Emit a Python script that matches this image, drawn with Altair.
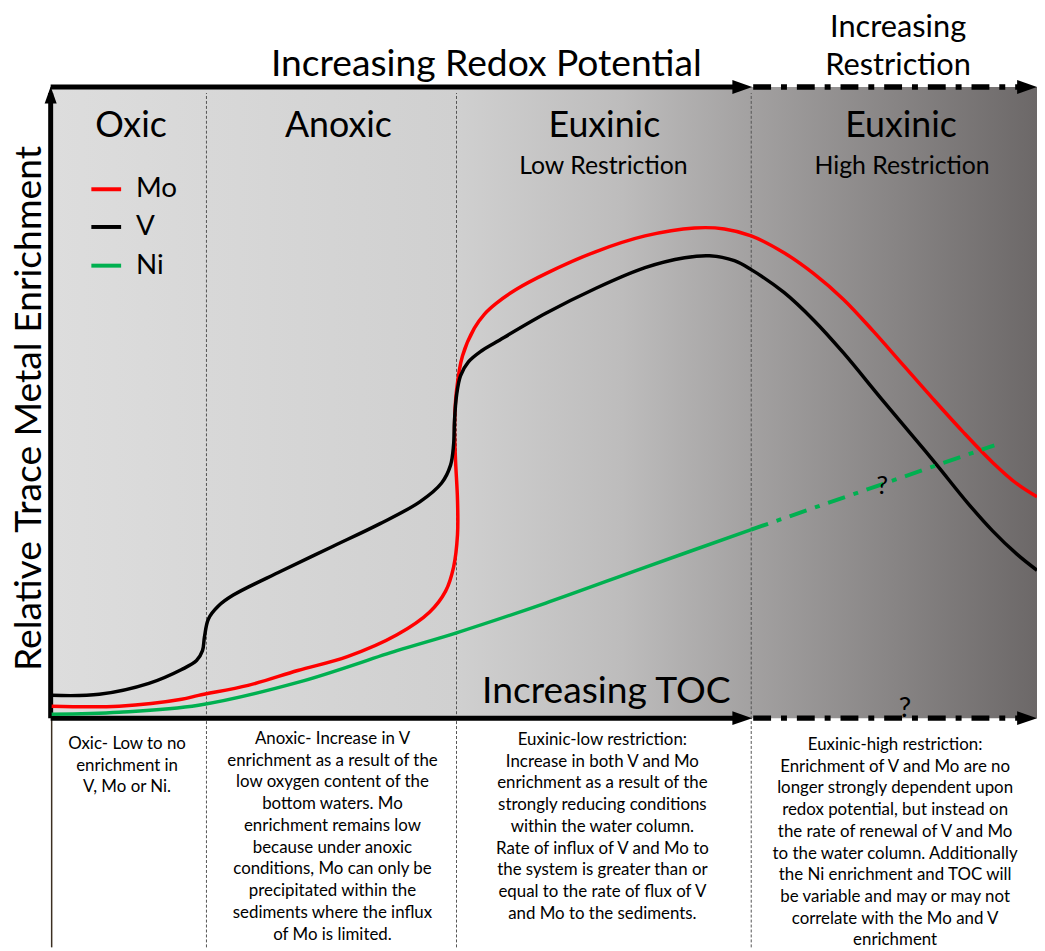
import altair as alt
import pandas as pd

FONT = "Lato"

# ---------------- data: relative TOC position (0 = enrichment axis) vs relative enrichment (0 = TOC axis)
v_toc = [1, 49, 99, 132, 147, 153, 155, 159, 169, 184, 232, 282, 332, 372, 394, 403, 406, 407, 409, 413,
         421, 434, 449, 499, 549, 599, 639, 664, 689, 706, 739, 769, 799, 837, 869, 894, 924, 949, 974, 994]
v_enr = [23, 24, 35, 49, 58, 68, 82, 100, 113, 124, 148, 172, 196, 218, 237, 255, 275, 300, 325, 345,
         359, 370, 379, 408, 433, 454, 464, 466, 461, 452, 429, 401, 368, 322, 284, 254, 217, 189, 165, 149]

mo_toc = [1, 69, 132, 149, 199, 249, 299, 349, 382, 398, 406, 410, 410, 408, 407, 409, 415, 427, 437, 449,
          469, 499, 549, 599, 649, 679, 706, 739, 769, 799, 829, 859, 889, 919, 949, 974, 994]
mo_enr = [12, 12, 19, 23, 33, 48, 62, 84, 107, 128, 152, 185, 220, 260, 295, 330, 365, 393, 407, 418,
          432, 448, 470, 486, 494, 493, 486, 469, 448, 422, 390, 356, 322, 289, 258, 236, 223]

ni_toc = [1, 69, 149, 249, 349, 409, 499, 599, 706]
ni_enr = [4, 6, 13, 36, 68, 86, 116, 152, 190]
ni_proj_toc = [706, 951]
ni_proj_enr = [190, 275]

metals = ["Mo", "V", "Ni"]
metal_colors = ["#ff0000", "#000000", "#00b050"]
legend_enr = [533, 495, 456]

zone_bounds = [157, 409, 706]
zone_names = ["Oxic", "Anoxic", "Euxinic", "Euxinic"]
zone_name_x = [81, 290, 558, 857]
zone_sub = ["Low Restriction", "High Restriction"]
zone_sub_x = [557, 858]

desc_x = [77, 284, 556, 851]
desc_y = [-31, -26, -27, -32]
desc_lines = [
    ["Oxic- Low to no", "enrichment in", "V, Mo or Ni."],
    ["Anoxic- Increase in V", "enrichment as a result of the", "low oxygen content of the",
     "bottom waters. Mo", "enrichment remains low", "because under anoxic",
     "conditions, Mo can only be", "precipitated within the", "sediments where the influx",
     "of Mo is limited."],
    ["Euxinic-low restriction:", "Increase in both V and Mo", "enrichment as a result of the",
     "strongly reducing conditions", "within the water column.", "Rate of influx of V and Mo to",
     "the system is greater than or", "equal to the rate of flux of V", "and Mo to the sediments."],
    ["Euxinic-high restriction:", "Enrichment of V and Mo are no", "longer strongly dependent upon",
     "redox potential, but instead on", "the rate of renewal of V and Mo",
     "to the water column. Additionally", "the Ni enrichment and TOC will",
     "be variable and may or may not", "correlate with the Mo and V", "enrichment"],
]

# ---------------- scales
W, H = 1037, 943
xs = alt.Scale(domain=[-43, 994], nice=False, zero=False)
ys = alt.Scale(domain=[-231, 712], nice=False, zero=False)


def X(f="x"):
    return alt.X(f"{f}:Q", scale=xs, axis=None)


def Y(f="y"):
    return alt.Y(f"{f}:Q", scale=ys, axis=None)


def label(x, y, text, size, **kw):
    df = pd.DataFrame({"x": [x], "y": [y], "t": [text]})
    return alt.Chart(df).mark_text(font=FONT, fontSize=size, **kw).encode(
        x=X(), y=Y(), text="t:N")


layers = []

# background gradient
bg = pd.DataFrame({"x": [0], "x2": [994], "y": [0], "y2": [636]})
grad = alt.LinearGradient(
    gradient="linear",
    stops=[alt.GradientStop(color="#dddddd", offset=0),
           alt.GradientStop(color="#d0d0d0", offset=0.41),
           alt.GradientStop(color="#bdbcbc", offset=0.58),
           alt.GradientStop(color="#a3a1a1", offset=0.71),
           alt.GradientStop(color="#6c6868", offset=1)],
    x1=0, x2=1, y1=0, y2=0)
layers.append(alt.Chart(bg).mark_rect(color=grad).encode(x=X(), x2="x2:Q", y=Y(), y2="y2:Q"))

# zone separators
sep = pd.DataFrame({"x": zone_bounds, "y": [-231] * 3, "y2": [630] * 3})
layers.append(alt.Chart(sep).mark_rule(color="#555555", strokeWidth=1, strokeDash=[3, 2]).encode(
    x=X(), y=Y(), y2="y2:Q"))

# thin left border of the description table
layers.append(alt.Chart(pd.DataFrame({"x": [1], "y": [-231], "y2": [0]})).mark_rule(
    color="#3b2f22", strokeWidth=1.5).encode(x=X(), y=Y(), y2="y2:Q"))

# solid axes
ax = pd.DataFrame({"x": [0, 0, 0], "x2": [0, 697, 697], "y": [0, 0, 636], "y2": [630, 0, 636]})
layers.append(alt.Chart(ax).mark_rule(color="black", strokeWidth=5).encode(
    x=X(), x2="x2:Q", y=Y(), y2="y2:Q"))

# dash-dot axis extensions
axd = pd.DataFrame({"x": [708, 708], "x2": [984, 984], "y": [0, 636], "y2": [0, 636]})
layers.append(alt.Chart(axd).mark_rule(color="black", strokeWidth=5.5, strokeDash=[18, 10, 6, 10]).encode(
    x=X(), x2="x2:Q", y=Y(), y2="y2:Q"))

# arrow heads
arr_r = pd.DataFrame({"x": [697, 984, 697, 984], "y": [0, 0, 636, 636]})
layers.append(alt.Chart(arr_r).mark_point(
    shape="M-1,-0.7L1,0L-1,0.7Z", filled=True, color="black", opacity=1, size=400).encode(x=X(), y=Y()))
arr_u = pd.DataFrame({"x": [0], "y": [628]})
layers.append(alt.Chart(arr_u).mark_point(
    shape="M-0.7,1L0,-1L0.7,1Z", filled=True, color="black", opacity=1, size=300).encode(x=X(), y=Y()))

# curves
rows = []
for m, tl, el in [("Mo", mo_toc, mo_enr), ("V", v_toc, v_enr), ("Ni", ni_toc, ni_enr)]:
    for i, (t, e) in enumerate(zip(tl, el)):
        rows.append({"metal": m, "toc": t, "enr": e, "o": i})
curves = pd.DataFrame(rows)
cscale = alt.Scale(domain=metals, range=metal_colors)
layers.append(alt.Chart(curves).mark_line(strokeWidth=3.5, interpolate="catmull-rom").encode(
    x=X("toc"), y=Y("enr"), order="o:Q",
    color=alt.Color("metal:N", scale=cscale, legend=None), detail="metal:N"))

# Ni projection (uncertain)
proj = pd.DataFrame({"toc": ni_proj_toc, "enr": ni_proj_enr})
layers.append(alt.Chart(proj).mark_line(color="#00b050", strokeWidth=4, strokeDash=[18, 9, 5, 9]).encode(
    x=X("toc"), y=Y("enr")))

# legend
leg = pd.DataFrame({"metal": metals, "x": [41] * 3, "x2": [71] * 3, "y": legend_enr, "lx": [86] * 3})
layers.append(alt.Chart(leg).mark_rule(strokeWidth=4).encode(
    x=X(), x2="x2:Q", y=Y(), color=alt.Color("metal:N", scale=cscale, legend=None)))
layers.append(alt.Chart(leg).mark_text(font=FONT, fontSize=28, align="left", baseline="middle",
                                       color="black").encode(x=X("lx"), y=Y(), text="metal:N"))

# zone titles
for name, xx in zip(zone_names, zone_name_x):
    layers.append(label(xx, 597, name, 36, align="center", baseline="middle"))
for name, xx in zip(zone_sub, zone_sub_x):
    layers.append(label(xx, 556, name, 25, align="center", baseline="middle"))

# big titles
layers.append(label(439, 658, "Increasing Redox Potential", 37.5, align="center", baseline="middle"))
layers.append(label(854, 695, "Increasing", 31, align="center", baseline="middle"))
layers.append(label(854, 657, "Restriction", 31, align="center", baseline="middle"))
layers.append(label(-21, 312, "Relative Trace Metal Enrichment", 37.5, align="center",
                    baseline="middle", angle=270))
layers.append(label(560, 26, "Increasing TOC", 37.5, align="center", baseline="middle"))
layers.append(label(861, 9, "?", 28, align="center", baseline="middle"))
layers.append(label(838, 234, "?", 26, align="center", baseline="middle"))

# description texts
for lines, xx, yy in zip(desc_lines, desc_x, desc_y):
    layers.append(alt.Chart(pd.DataFrame({"x": [xx], "y": [yy]})).mark_text(
        text=lines, font=FONT, fontSize=17, lineHeight=21.9, align="center", baseline="alphabetic",
        color="black").encode(x=X(), y=Y()))

chart = alt.layer(*layers).properties(
    width=W, height=H, padding=0, autosize=alt.AutoSizeParams(type="none"),
    background="white"
).configure_view(stroke=None)

chart.save("out.html", embed_options={"renderer": "svg", "actions": False})
